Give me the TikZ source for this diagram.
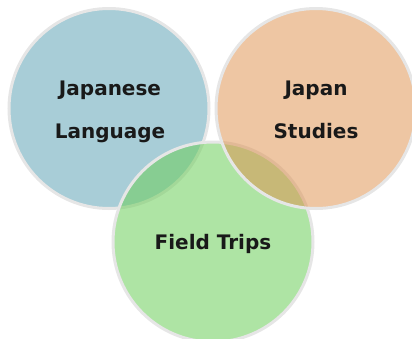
\documentclass[tikz,border=0pt]{standalone}
\usepackage{fontspec}
\setmainfont{DejaVu Sans}
\usetikzlibrary{positioning}
\definecolor{langblue}{RGB}{168,205,215}
\definecolor{tripgreen}{RGB}{108,206,90}
\definecolor{studorange}{RGB}{222,145,78}
\definecolor{ringgray}{RGB}{230,230,230}
\begin{document}
\begin{tikzpicture}[x=1pt,y=-1pt,
  venn/.style={circle,draw=ringgray,line width=3pt,minimum size=200pt,inner sep=0pt},
  lbl/.style={anchor=base,inner sep=0pt,font=\fontsize{20}{22}\selectfont\bfseries,text=black!90}]
\useasboundingbox (0,0) rectangle (412,338);
% circles
\node[venn,fill=langblue] (L) at (109,108.5) {};
\node[venn,fill=tripgreen,fill opacity=0.55] (F) at (213,242) {};
\node[venn,fill=studorange,fill opacity=0.52] (S) at (316,108.5) {};
% labels
\node[lbl] (L1) at (110,95) {Japanese};
\node[lbl] (L2) at (110,138) {Language};
\node[lbl] (S1) at (316,95) {Japan};
\node[lbl] (S2) at (316,138) {Studies};
\node[lbl] (F1) at (213,249) {Field Trips};
\end{tikzpicture}
\end{document}
